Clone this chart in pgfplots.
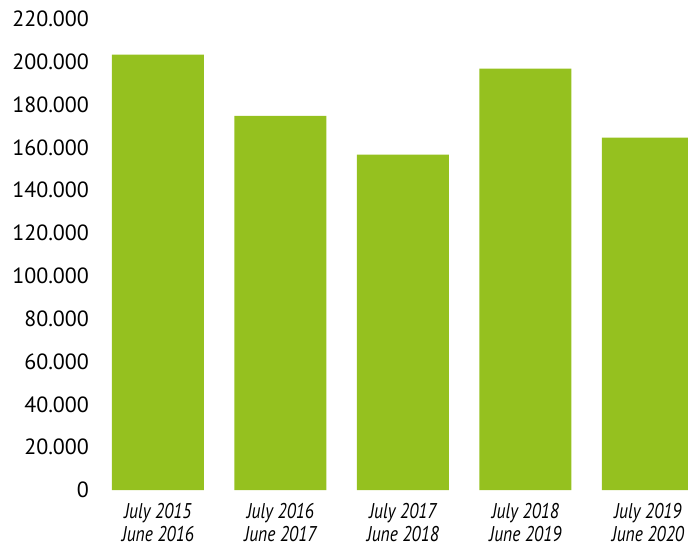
\documentclass[border=0pt]{standalone}
\usepackage{pgfplots}
\pgfplotsset{compat=1.18}
\usepackage{fontspec}
\setmainfont{PT Sans}
\newfontfamily\condfont[FakeStretch=0.82]{PT Sans}
\definecolor{bargreen}{RGB}{149,193,31}
\begin{document}
\begin{tikzpicture}
\begin{axis}[
  name=ax,
  scale only axis,
  width=444.75pt, height=353.25pt,
  xmin=-0.514, xmax=4.327,
  ymin=0, ymax=220000,
  ytick={0,20000,...,220000},
  scaled y ticks=false,
  /pgf/number format/.cd, fixed, 1000 sep={.}, assume math mode=true,
  /pgfplots/.cd,
  xtick={0,1,2,3,4},
  xticklabels={{July 2015\\June 2016},{July 2016\\June 2017},{July 2017\\June 2018},{July 2018\\June 2019},{July 2019\\June 2020}},
  xticklabel style={align=center, font=\condfont\fontsize{16}{17}\selectfont\itshape, yshift=-6.5pt},
  yticklabel style={font=\fontsize{16.5}{19}\selectfont, xshift=-1pt},
  axis line style={draw=none},
  major tick length=0pt,
  ybar, bar width=69pt, bar shift=0pt,
]
\addplot[fill=bargreen, draw=none] coordinates {(0,203400) (1,174800) (2,156600) (3,196800) (4,164600)};
\end{axis}
\pgfresetboundingbox
\path[use as bounding box] ([shift={(-71.25pt,-44.25pt)}]ax.south west) rectangle ([shift={(0pt,14.25pt)}]ax.north east);
\end{tikzpicture}
\end{document}
